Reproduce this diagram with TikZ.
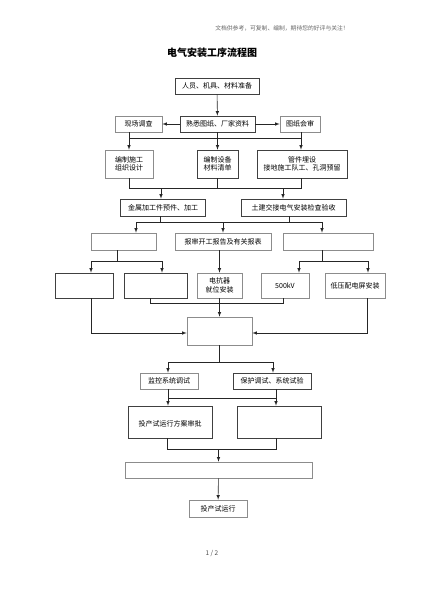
\documentclass[tikz,border=0pt]{standalone}
\usepackage{fontspec}
\setmainfont{Noto Sans CJK SC}
\begin{document}
\begin{tikzpicture}
  [x=1pt,y=-1pt,line width=.6pt,
   box/.style={draw=black!75,inner sep=0pt,font=\fontsize{7}{8.5}\selectfont,align=center},
   lbox/.style={box,draw=black!45},
   arr/.style={->,>=latex,draw=black!85},
   link/.style={draw=black!85}]
  \useasboundingbox (0,0) rectangle (424,600);
  \node (note) at (282,28) {\fontsize{5.8}{7}\selectfont\color{black!60}文档供参考，可复制、编制，期待您的好评与关注！};
  \node (title) at (212,53) {\fontsize{10}{12}\selectfont\bfseries 电气安装工序流程图};

  \node[box,minimum width=84,minimum height=16] (n1) at (217,86) {人员、机具、材料准备};
  \node[lbox,minimum width=47,minimum height=16] (a1) at (138.5,124) {现场调查};
  \node[box,minimum width=75,minimum height=16] (a2) at (217.5,124) {熟悉图纸、厂家资料};
  \node[lbox,minimum width=40,minimum height=16] (a3) at (300,124) {图纸会审};
  \node[lbox,minimum width=48,minimum height=28] (b1) at (129,164) {编制施工\\组织设计};
  \node[box,minimum width=41,minimum height=28] (b2) at (217.5,164) {编制设备\\材料清单};
  \node[box,minimum width=90,minimum height=28] (b3) at (302,164) {管件埋设\\接地施工队工、孔洞预留};
  \node[box,minimum width=85,minimum height=17] (c1) at (163,207.5) {金属加工件预件、加工};
  \node[box,minimum width=105,minimum height=17] (c2) at (293.5,207.5) {土建交接电气安装检查验收};
  \node[lbox,minimum width=65,minimum height=17] (d1) at (123.5,241.5) {};
  \node[lbox,minimum width=96,minimum height=17] (d2) at (223,241.5) {报审开工报告及有关报表};
  \node[lbox,minimum width=90,minimum height=17] (d3) at (328,241.5) {};
  \node[box,minimum width=58,minimum height=25] (e1) at (84,285.5) {};
  \node[box,minimum width=63,minimum height=25] (e2) at (155.5,285.5) {};
  \node[lbox,minimum width=45,minimum height=25] (e3) at (219.5,285.5) {电抗器\\就位安装};
  \node[lbox,minimum width=48,minimum height=25] (e4) at (285,285.5) {500kV};
  \node[lbox,minimum width=60,minimum height=25] (e5) at (355,285.5) {低压配电屏安装};
  \node[lbox,minimum width=65,minimum height=28] (f) at (219.5,331) {};
  \node[lbox,minimum width=58,minimum height=16] (g1) at (169,381) {监控系统调试};
  \node[box,minimum width=78,minimum height=16] (g2) at (272,381) {保护调试、系统试验};
  \node[box,minimum width=84,minimum height=32] (h1) at (170,422) {\\[2pt]投产试运行方案审批};
  \node[box,minimum width=84,minimum height=32] (h2) at (279,422) {};
  \node[lbox,minimum width=187,minimum height=16] (i) at (218.5,470) {};
  \node[lbox,minimum width=58,minimum height=17] (j) at (218,508.5) {投产试运行};
  \node (page) at (212,553) {\fontsize{6.5}{8}\selectfont\color{black!70}1 / 2};

  % junctions
  \coordinate (p1) at (129,138);  \coordinate (p2) at (301,138);
  \coordinate (q1) at (129,188);  \coordinate (q2) at (301,188);
  \coordinate (q3) at (161,188);  \coordinate (q4) at (283,188);
  \coordinate (r1) at (136,222);  \coordinate (r2) at (322,222);
  \coordinate (r3) at (160,222);  \coordinate (r4) at (289,222);
  \coordinate (s1) at (91,261);   \coordinate (s2) at (162,261);
  \coordinate (s3) at (117,261);  \coordinate (s4) at (299,261);
  \coordinate (s5) at (368,261);  \coordinate (s6) at (322,261);
  \coordinate (u1) at (150,303);  \coordinate (u2) at (283,303);
  \coordinate (v1) at (91,333);   \coordinate (v2) at (367,333);
  \coordinate (w1) at (168,362);  \coordinate (w2) at (273,362);
  \coordinate (x1) at (168,398);  \coordinate (x2) at (276,398);
  \coordinate (y1) at (167,449);  \coordinate (y2) at (276,449);

  \draw[arr] (n1) -- (a2);
  \draw[arr] (a2) -- (a1);
  \draw[arr] (a2) -- (a3);

  \draw[link] (p1) -- (p2);
  \draw[arr] (a1.south -| p1) -- (b1.north -| p1);
  \draw[arr] (a2) -- (b2);
  \draw[arr] (a3.south -| p2) -- (b3.north -| p2);

  \draw[link] (b1.south -| q1) -- (q1) -- (q2) -- (b3.south -| q2);
  \draw[link] (b2) -- (b2.south |- q1);
  \draw[arr] (q3) -- (c1.north -| q3);
  \draw[arr] (q4) -- (c2.north -| q4);

  \draw[link] (c1.south -| r3) -- (r3);
  \draw[link] (c2.south -| r4) -- (r4);
  \draw[link] (r1) -- (r2);
  \draw[arr] (r1) -- (d1.north -| r1);
  \draw[arr] (d2.north |- r1) -- (d2.north);
  \draw[arr] (r2) -- (d3.north -| r2);

  \draw[link] (d1.south -| s3) -- (s3);
  \draw[link] (s1) -- (s2);
  \draw[arr] (s1) -- (e1.north -| s1);
  \draw[arr] (s2) -- (e2.north -| s2);
  \draw[arr] (d2.south -| e3) -- (e3);
  \draw[link] (d3.south -| s6) -- (s6);
  \draw[link] (s4) -- (s5);
  \draw[arr] (s4) -- (e4.north -| s4);
  \draw[arr] (s5) -- (e5.north -| s5);

  \draw[link] (e2.south -| u1) -- (u1) -- (u2) -- (e4.south -| u2);
  \draw[arr] (e3) -- (f);
  \draw[arr] (e1.south -| v1) -- (v1) -- (f.west |- v1);
  \draw[arr] (e5.south -| v2) -- (v2) -- (f.east |- v2);

  \draw[link] (f) -- (f.south |- w1);
  \draw[link] (w1) -- (w2);
  \draw[arr] (w1) -- (g1.north -| w1);
  \draw[arr] (w2) -- (g2.north -| w2);

  \draw[link] (x1) -- (x2);
  \draw[arr] (g1.south -| x1) -- (h1.north -| x1);
  \draw[arr] (g2.south -| x2) -- (h2.north -| x2);

  \draw[link] (h1.south -| y1) -- (y1) -- (y2) -- (h2.south -| y2);
  \draw[arr] (i.north |- y1) -- (i);
  \draw[arr] (i) -- (j);
\end{tikzpicture}
\end{document}
